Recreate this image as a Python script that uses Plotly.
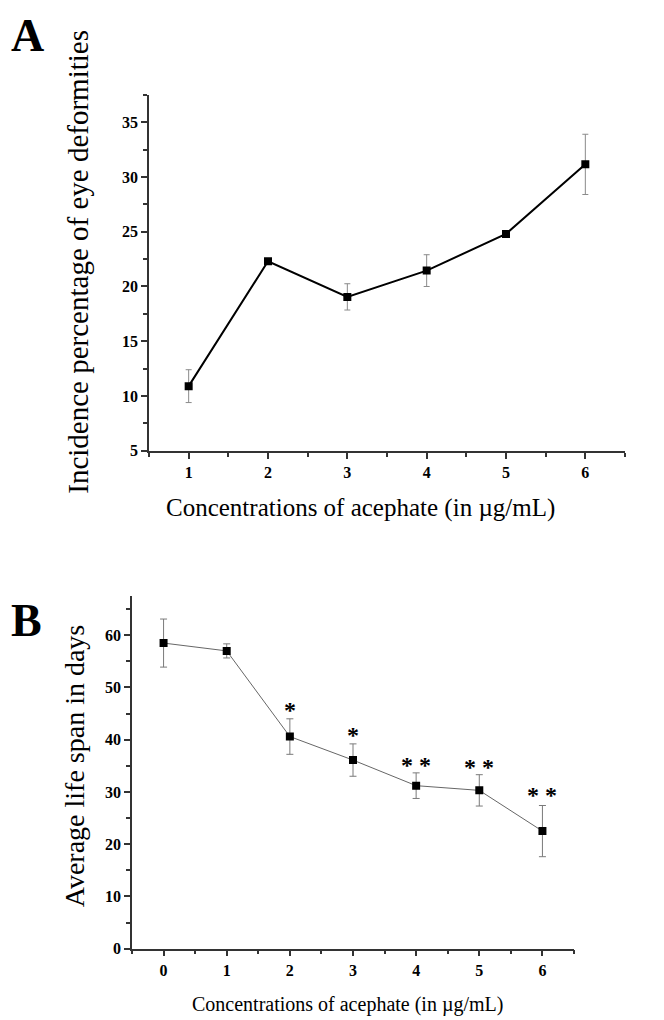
import plotly.graph_objects as go

# ---------------- data ----------------
# Panel A: incidence of eye deformities
conc_a = [1, 2, 3, 4, 5, 6]
incidence = [10.9, 22.3, 19.05, 21.45, 24.8, 31.15]
incidence_err = [1.5, 0.15, 1.2, 1.45, 0.15, 2.75]

# Panel B: average life span
conc_b = [0, 1, 2, 3, 4, 5, 6]
lifespan = [58.5, 57.0, 40.6, 36.1, 31.2, 30.3, 22.5]
lifespan_err = [4.6, 1.35, 3.4, 3.1, 2.45, 3.0, 4.9]

# significance marks (panel B)
sig_x = [2, 3, 4, 5, 6]
sig_y = [46.3, 41.5, 35.8, 35.4, 30.0]
sig_text = ["*", "*", "* *", "* *", "* *"]

xtitle = "Concentrations of acephate (in \u00b5g/mL)"
ytitle_a = "Incidence percentage of eye deformities"
ytitle_b = "Average life span in days"

W, H = 664, 1020
SERIF = "Liberation Serif, Times New Roman, serif"


def px_x(p):
    return p / W


def px_y(p):
    return 1 - p / H


fig = go.Figure()

fig.add_trace(go.Scatter(
    x=conc_a, y=incidence, mode="lines+markers",
    line=dict(color="black", width=2),
    marker=dict(symbol="square", size=8, color="black"),
    error_y=dict(type="data", array=incidence_err, visible=True,
                 color="#8a8a8a", thickness=1, width=3),
    xaxis="x", yaxis="y", showlegend=False,
))

fig.add_trace(go.Scatter(
    x=conc_b, y=lifespan, mode="lines+markers",
    line=dict(color="#666666", width=1),
    marker=dict(symbol="square", size=8, color="black"),
    error_y=dict(type="data", array=lifespan_err, visible=True,
                 color="#7a7a7a", thickness=1, width=3.5),
    xaxis="x2", yaxis="y2", showlegend=False,
))

tickfont = dict(family=SERIF, size=16, color="black", weight="bold")
axis_common = dict(
    showline=True, linecolor="#333333", linewidth=1.5,
    ticks="outside", ticklen=6, tickwidth=1.5, tickcolor="#333333",
    showgrid=False, zeroline=False, tickfont=tickfont, mirror=False,
    fixedrange=True,
)

fig.update_layout(
    width=W, height=H,
    margin=dict(l=0, r=0, t=0, b=0),
    paper_bgcolor="white", plot_bgcolor="white",
    xaxis=dict(domain=[px_x(141), px_x(617)], range=[0.5, 6.5],
               tick0=1, dtick=1, anchor="y",
               minor=dict(ticks="outside", ticklen=4, dtick=0.5, tick0=0.5,
                          tickcolor="#333333", tickwidth=1.5),
               **axis_common),
    yaxis=dict(domain=[px_y(446.7), px_y(87.6)], range=[5, 37.5],
               tick0=5, dtick=5, anchor="x",
               minor=dict(ticks="outside", ticklen=4, dtick=2.5, tick0=5,
                          tickcolor="#333333", tickwidth=1.5),
               **axis_common),
    xaxis2=dict(domain=[px_x(124), px_x(566)], range=[-0.5, 6.5],
                tick0=0, dtick=1, anchor="y2",
                minor=dict(ticks="outside", ticklen=4, dtick=0.5, tick0=0.5,
                           tickcolor="#333333", tickwidth=1.5),
                **axis_common),
    yaxis2=dict(domain=[px_y(949), px_y(593.3)], range=[0, 67.5],
                tick0=0, dtick=10, anchor="x2",
                minor=dict(ticks="outside", ticklen=4, dtick=5, tick0=0,
                           tickcolor="#333333", tickwidth=1.5),
                **axis_common),
)

ann = []
# panel letters
ann.append(dict(text="A", x=px_x(1), y=1, xref="paper", yref="paper",
                showarrow=False, xanchor="left", yanchor="top",
                font=dict(family=SERIF, size=46, color="black", weight="bold")))
ann.append(dict(text="B", x=px_x(1), y=px_y(618.3), xref="paper", yref="paper",
                showarrow=False, xanchor="left", yanchor="middle",
                font=dict(family=SERIF, size=46, color="black", weight="bold")))
# axis titles
ann.append(dict(text=ytitle_a, x=px_x(70), y=px_y(256), xref="paper", yref="paper",
                showarrow=False, textangle=-90, xanchor="center", yanchor="middle",
                font=dict(family=SERIF, size=29, color="black")))
ann.append(dict(text=xtitle, x=px_x(353), y=px_y(504), xref="paper", yref="paper",
                showarrow=False, xanchor="center", yanchor="middle",
                font=dict(family=SERIF, size=25, color="black")))
ann.append(dict(text=ytitle_b, x=px_x(66), y=px_y(765), xref="paper", yref="paper",
                showarrow=False, textangle=-90, xanchor="center", yanchor="middle",
                font=dict(family=SERIF, size=28, color="black")))
ann.append(dict(text=xtitle, x=px_x(339), y=px_y(1005), xref="paper", yref="paper",
                showarrow=False, xanchor="center", yanchor="middle",
                font=dict(family=SERIF, size=20, color="black")))
# significance stars
for sx, sy, st in zip(sig_x, sig_y, sig_text):
    ann.append(dict(text=st, x=sx, y=sy, xref="x2", yref="y2", showarrow=False,
                    xanchor="center", yanchor="middle", yshift=-3,
                    font=dict(family=SERIF, size=24, color="black", weight="bold")))

fig.update_layout(annotations=ann)

fig.write_html("out.html")
